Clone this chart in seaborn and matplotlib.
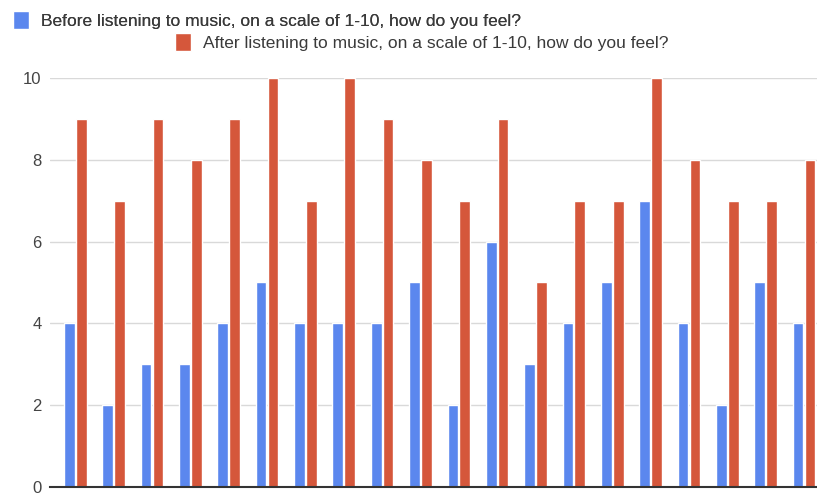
import matplotlib
matplotlib.use("Agg")
import matplotlib.pyplot as plt
import seaborn as sns
import pandas as pd

before_label = "Before listening to music, on a scale of 1-10, how do you feel?"
after_label = "After listening to music, on a scale of 1-10, how do you feel?"
respondents = list(range(1, 21))
before = [4, 2, 3, 3, 4, 5, 4, 4, 4, 5, 2, 6, 3, 4, 5, 7, 4, 2, 5, 4]
after = [9, 7, 9, 8, 9, 10, 7, 10, 9, 8, 7, 9, 5, 7, 7, 10, 8, 7, 7, 8]
y_ticks = [0, 2, 4, 6, 8, 10]

blue = "#5b87ee"
red = "#d5573b"

df = pd.DataFrame({
    "respondent": respondents * 2,
    "score": before + after,
    "question": [before_label] * len(before) + [after_label] * len(after),
})

sns.set_theme(style="white")
plt.rcParams["font.family"] = ["Liberation Sans", "DejaVu Sans"]

fig = plt.figure(figsize=(8.17, 4.93), dpi=100)
ax = fig.add_axes([0.0612, 0.0122, 0.9388, 0.8298])

sns.barplot(data=df, x="respondent", y="score", hue="question",
            palette=[blue, red], width=0.62, gap=0.1, ax=ax,
            saturation=1, errorbar=None, legend=True)

ax.set_ylim(0, 10)
ax.set_xlim(-0.66, 19.34)
ax.set_yticks(y_ticks)
ax.set_yticklabels([str(t) for t in y_ticks], color="#444444", fontsize=12)
ax.set_xticks([])
ax.set_xlabel("")
ax.set_ylabel("")
ax.yaxis.grid(True, color="#d9d9d9", linewidth=1)
ax.set_axisbelow(True)
ax.tick_params(axis="y", length=0, pad=6)
for side in ["top", "right", "left"]:
    ax.spines[side].set_visible(False)
ax.spines["bottom"].set_color("#333333")
ax.spines["bottom"].set_linewidth(1.5)
ax.spines["bottom"].set_zorder(5)

handles, labels = ax.get_legend_handles_labels()
ax.get_legend().remove()

legend_kw = dict(loc="center left", frameon=False, fontsize=12.5,
                 handlelength=0.9, handleheight=1.25, handletextpad=0.7,
                 borderpad=0, borderaxespad=0, labelcolor="#3a3a3a")
leg1 = fig.legend([handles[0]], [labels[0]],
                  bbox_to_anchor=(13 / 817, 1 - 20 / 493), **legend_kw)
fig.add_artist(leg1)
fig.legend([handles[1]], [labels[1]],
           bbox_to_anchor=(175 / 817, 1 - 42 / 493), **legend_kw)

fig.savefig("out.png", dpi=100)
